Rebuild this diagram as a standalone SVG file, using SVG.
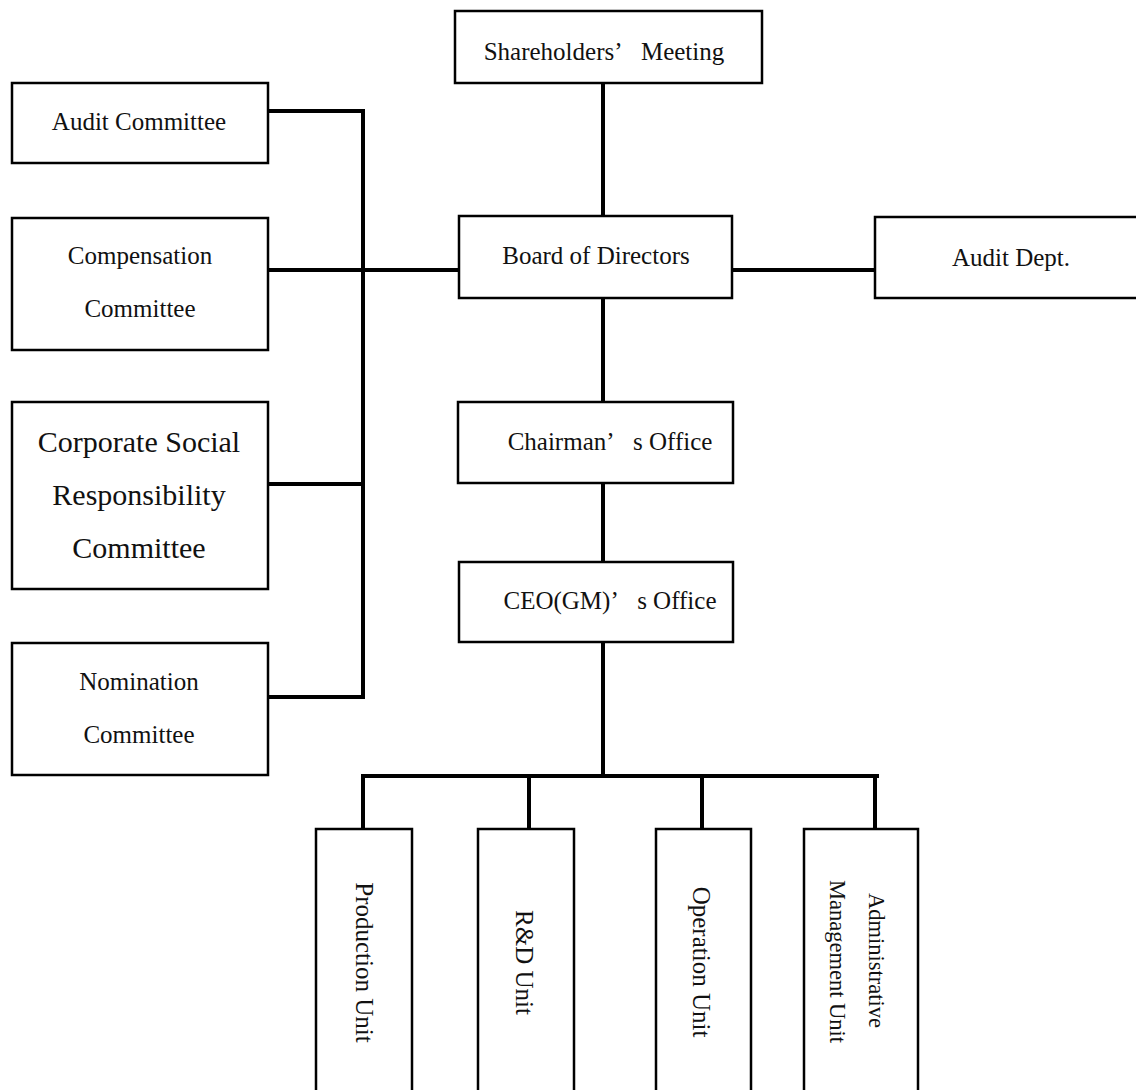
<svg xmlns="http://www.w3.org/2000/svg" width="1136" height="1090" viewBox="0 0 1136 1090">
<style>
.box{fill:#fff;stroke:#000;stroke-width:2.5}
.t{font-family:"Liberation Serif","Times New Roman",serif;font-size:25px;fill:#111;text-anchor:middle}
.big{font-size:30px}
.sm{font-size:22.5px}
.c{stroke:#000;stroke-width:4;fill:none;stroke-linecap:square}
</style>
<rect width="1136" height="1090" fill="#fff"/>
<g id="connectors">
<path class="c" d="M603 84V215M603 299V401M603 484V561M603 643V776"/>
<path class="c" d="M363 776H877M363 776V828M529 776V828M702 776V828M875 776V828"/>
<path class="c" d="M363 111V697M269 111H363M269 270H458M269 484H363M269 697H363"/>
<path class="c" d="M733 270H874"/>
</g>
<g id="shareholders">
<rect class="box" x="455" y="11" width="307" height="72"/>
<text class="t" x="604" y="60">Shareholders’<tspan dx="14"> Meeting</tspan></text>
</g>
<g id="board">
<rect class="box" x="459" y="216" width="273" height="82"/>
<text class="t" x="596" y="264">Board of Directors</text>
</g>
<g id="audit-dept">
<rect class="box" x="875" y="217" width="270" height="81"/>
<text class="t" x="1011" y="266">Audit Dept.</text>
</g>
<g id="chairman">
<rect class="box" x="458" y="402" width="275" height="81"/>
<text class="t" x="610" y="450">Chairman’<tspan dx="14"> s Office</tspan></text>
</g>
<g id="ceo">
<rect class="box" x="459" y="562" width="274" height="80"/>
<text class="t" x="610" y="609">CEO(GM)’<tspan dx="14"> s Office</tspan></text>
</g>
<g id="audit-committee">
<rect class="box" x="12" y="83" width="256" height="80"/>
<text class="t" x="139" y="130">Audit Committee</text>
</g>
<g id="compensation">
<rect class="box" x="12" y="218" width="256" height="132"/>
<text class="t" x="140" y="264">Compensation</text>
<text class="t" x="140" y="317">Committee</text>
</g>
<g id="csr">
<rect class="box" x="12" y="402" width="256" height="187"/>
<text class="t big" x="139" y="452">Corporate Social</text>
<text class="t big" x="139" y="505">Responsibility</text>
<text class="t big" x="139" y="558">Committee</text>
</g>
<g id="nomination">
<rect class="box" x="12" y="643" width="256" height="132"/>
<text class="t" x="139" y="690">Nomination</text>
<text class="t" x="139" y="743">Committee</text>
</g>
<g id="production">
<rect class="box" x="316" y="829" width="96" height="270"/>
<text class="t" transform="translate(356 962.5) rotate(90)">Production Unit</text>
</g>
<g id="rd">
<rect class="box" x="478" y="829" width="96" height="270"/>
<text class="t" transform="translate(516 962.5) rotate(90)">R&amp;D Unit</text>
</g>
<g id="operation">
<rect class="box" x="656" y="829" width="95" height="270"/>
<text class="t" transform="translate(693 962) rotate(90)">Operation Unit</text>
</g>
<g id="admin">
<rect class="box" x="804" y="829" width="114" height="270"/>
<text class="t sm" transform="translate(869 960.5) rotate(90)">Administrative</text>
<text class="t sm" transform="translate(830 961.5) rotate(90)">Management Unit</text>
</g>
</svg>
